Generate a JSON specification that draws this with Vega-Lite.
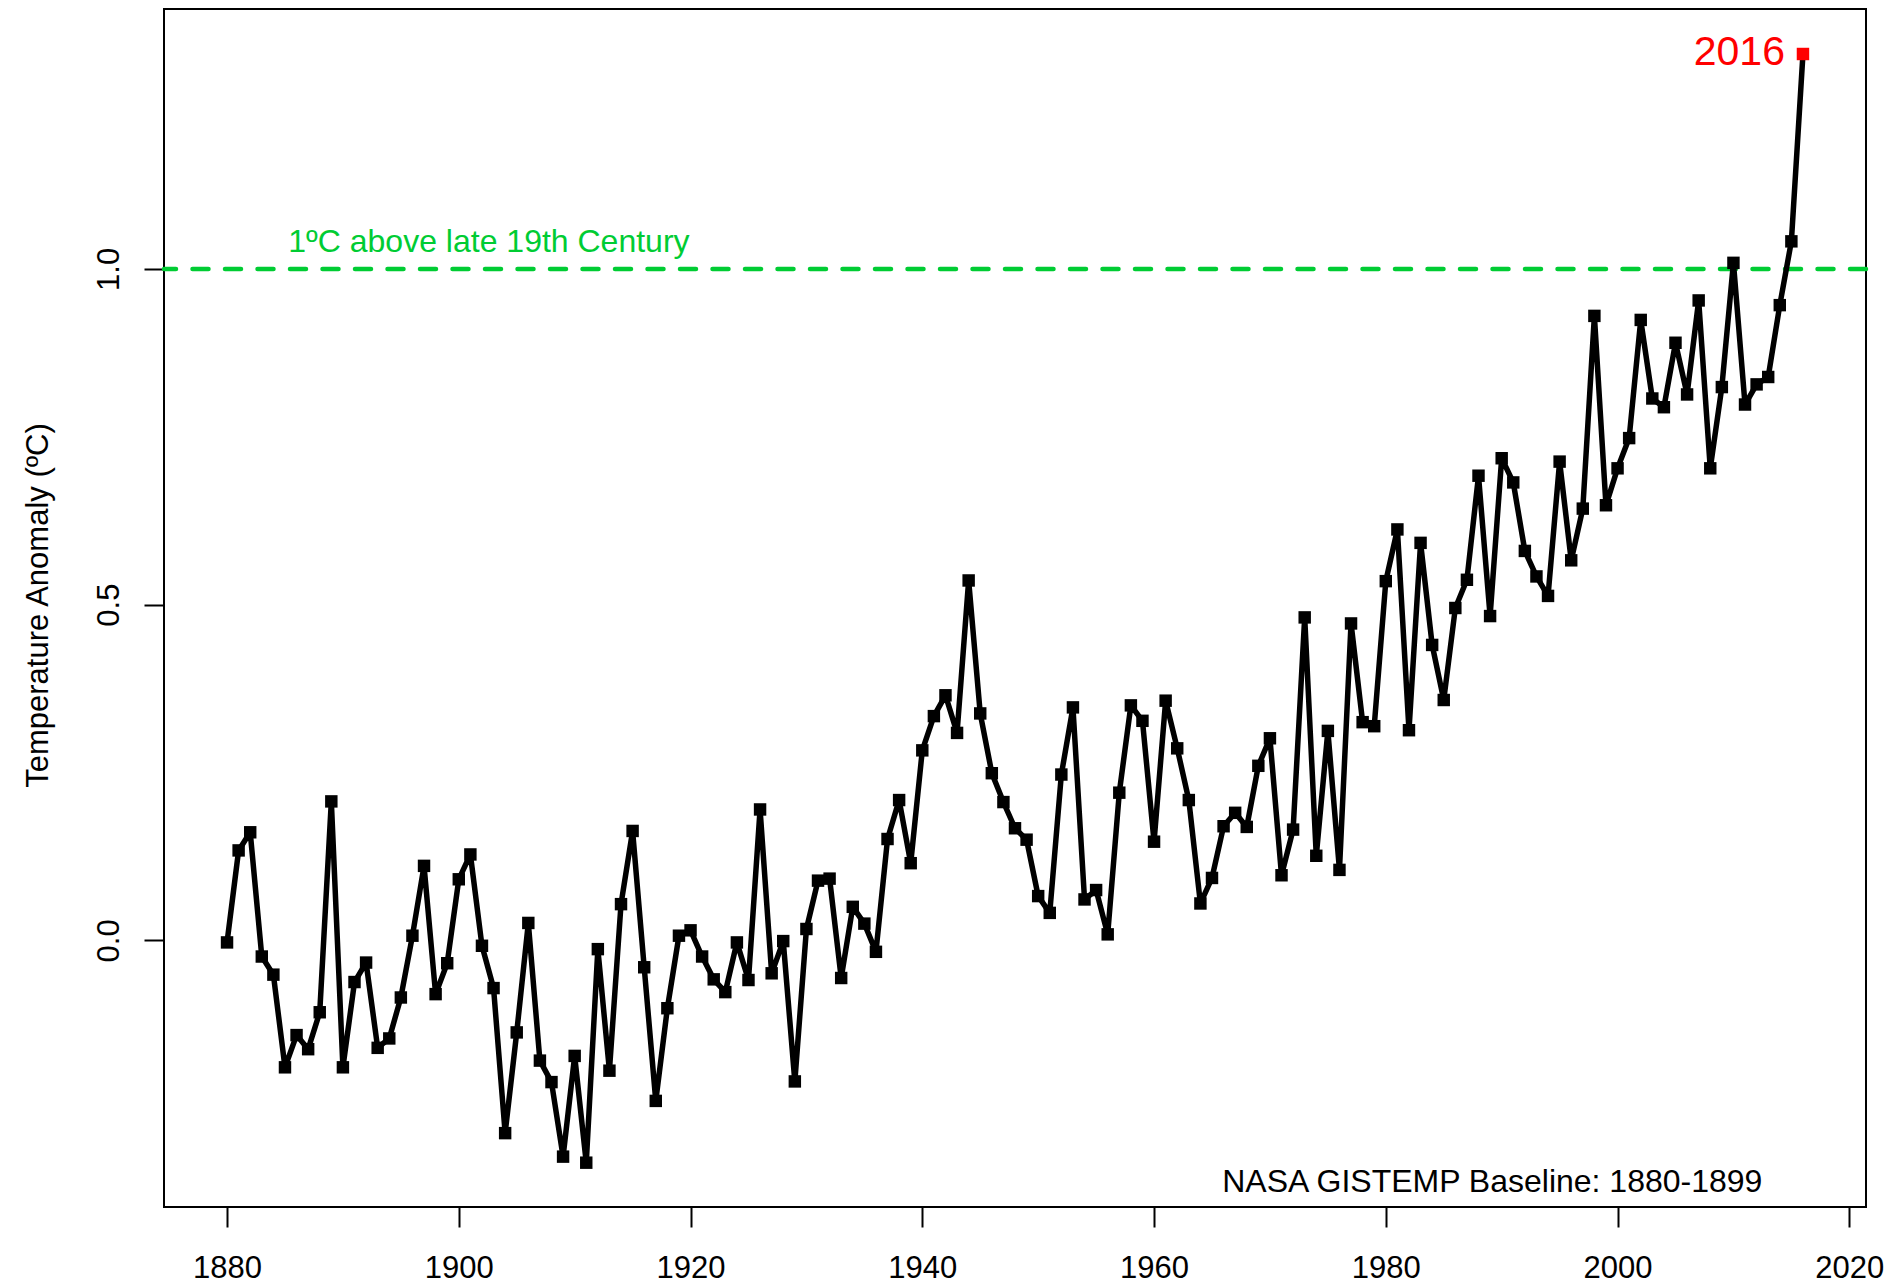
{
  "$schema": "https://vega.github.io/schema/vega-lite/v6.json",
  "width": 1702,
  "height": 1198,
  "autosize": {"type": "none"},
  "padding": {"left": 164, "top": 9, "right": 29, "bottom": 76},
  "background": "white",
  "config": {
    "font": "Liberation Sans",
    "view": {"stroke": "black", "strokeWidth": 2},
    "axis": {
      "domain": false,
      "grid": false,
      "tickColor": "black",
      "tickWidth": 2,
      "tickSize": 20,
      "labelColor": "black",
      "labelFont": "Liberation Sans",
      "labelFontSize": 31,
      "labelPadding": 26,
      "titleFont": "Liberation Sans",
      "titleFontSize": 31,
      "titleFontWeight": "normal",
      "titleColor": "black"
    }
  },
  "data": {
    "values": [
      {"year": 1880, "anomaly": -0.003}, {"year": 1881, "anomaly": 0.134}, {"year": 1882, "anomaly": 0.161},
      {"year": 1883, "anomaly": -0.024}, {"year": 1884, "anomaly": -0.051}, {"year": 1885, "anomaly": -0.189},
      {"year": 1886, "anomaly": -0.141}, {"year": 1887, "anomaly": -0.162}, {"year": 1888, "anomaly": -0.107},
      {"year": 1889, "anomaly": 0.207}, {"year": 1890, "anomaly": -0.189}, {"year": 1891, "anomaly": -0.062},
      {"year": 1892, "anomaly": -0.033}, {"year": 1893, "anomaly": -0.160}, {"year": 1894, "anomaly": -0.146},
      {"year": 1895, "anomaly": -0.085}, {"year": 1896, "anomaly": 0.007}, {"year": 1897, "anomaly": 0.111},
      {"year": 1898, "anomaly": -0.080}, {"year": 1899, "anomaly": -0.034}, {"year": 1900, "anomaly": 0.091},
      {"year": 1901, "anomaly": 0.128}, {"year": 1902, "anomaly": -0.008}, {"year": 1903, "anomaly": -0.071},
      {"year": 1904, "anomaly": -0.287}, {"year": 1905, "anomaly": -0.137}, {"year": 1906, "anomaly": 0.026},
      {"year": 1907, "anomaly": -0.179}, {"year": 1908, "anomaly": -0.211}, {"year": 1909, "anomaly": -0.322},
      {"year": 1910, "anomaly": -0.172}, {"year": 1911, "anomaly": -0.331}, {"year": 1912, "anomaly": -0.013},
      {"year": 1913, "anomaly": -0.194}, {"year": 1914, "anomaly": 0.054}, {"year": 1915, "anomaly": 0.163},
      {"year": 1916, "anomaly": -0.040}, {"year": 1917, "anomaly": -0.239}, {"year": 1918, "anomaly": -0.101},
      {"year": 1919, "anomaly": 0.007}, {"year": 1920, "anomaly": 0.015}, {"year": 1921, "anomaly": -0.024},
      {"year": 1922, "anomaly": -0.058}, {"year": 1923, "anomaly": -0.077}, {"year": 1924, "anomaly": -0.003},
      {"year": 1925, "anomaly": -0.059}, {"year": 1926, "anomaly": 0.195}, {"year": 1927, "anomaly": -0.049},
      {"year": 1928, "anomaly": -0.001}, {"year": 1929, "anomaly": -0.210}, {"year": 1930, "anomaly": 0.017},
      {"year": 1931, "anomaly": 0.089}, {"year": 1932, "anomaly": 0.092}, {"year": 1933, "anomaly": -0.056},
      {"year": 1934, "anomaly": 0.050}, {"year": 1935, "anomaly": 0.025}, {"year": 1936, "anomaly": -0.017},
      {"year": 1937, "anomaly": 0.151}, {"year": 1938, "anomaly": 0.209}, {"year": 1939, "anomaly": 0.115},
      {"year": 1940, "anomaly": 0.283}, {"year": 1941, "anomaly": 0.334}, {"year": 1942, "anomaly": 0.365},
      {"year": 1943, "anomaly": 0.309}, {"year": 1944, "anomaly": 0.536}, {"year": 1945, "anomaly": 0.338},
      {"year": 1946, "anomaly": 0.249}, {"year": 1947, "anomaly": 0.206}, {"year": 1948, "anomaly": 0.167},
      {"year": 1949, "anomaly": 0.150}, {"year": 1950, "anomaly": 0.066}, {"year": 1951, "anomaly": 0.041},
      {"year": 1952, "anomaly": 0.247}, {"year": 1953, "anomaly": 0.347}, {"year": 1954, "anomaly": 0.061},
      {"year": 1955, "anomaly": 0.075}, {"year": 1956, "anomaly": 0.009}, {"year": 1957, "anomaly": 0.220},
      {"year": 1958, "anomaly": 0.350}, {"year": 1959, "anomaly": 0.327}, {"year": 1960, "anomaly": 0.147},
      {"year": 1961, "anomaly": 0.357}, {"year": 1962, "anomaly": 0.286}, {"year": 1963, "anomaly": 0.209},
      {"year": 1964, "anomaly": 0.055}, {"year": 1965, "anomaly": 0.093}, {"year": 1966, "anomaly": 0.170},
      {"year": 1967, "anomaly": 0.190}, {"year": 1968, "anomaly": 0.169}, {"year": 1969, "anomaly": 0.260},
      {"year": 1970, "anomaly": 0.301}, {"year": 1971, "anomaly": 0.097}, {"year": 1972, "anomaly": 0.165},
      {"year": 1973, "anomaly": 0.481}, {"year": 1974, "anomaly": 0.126}, {"year": 1975, "anomaly": 0.312},
      {"year": 1976, "anomaly": 0.105}, {"year": 1977, "anomaly": 0.472}, {"year": 1978, "anomaly": 0.325},
      {"year": 1979, "anomaly": 0.319}, {"year": 1980, "anomaly": 0.535}, {"year": 1981, "anomaly": 0.612},
      {"year": 1982, "anomaly": 0.313}, {"year": 1983, "anomaly": 0.592}, {"year": 1984, "anomaly": 0.440},
      {"year": 1985, "anomaly": 0.358}, {"year": 1986, "anomaly": 0.495}, {"year": 1987, "anomaly": 0.537},
      {"year": 1988, "anomaly": 0.692}, {"year": 1989, "anomaly": 0.483}, {"year": 1990, "anomaly": 0.718},
      {"year": 1991, "anomaly": 0.682}, {"year": 1992, "anomaly": 0.580}, {"year": 1993, "anomaly": 0.542},
      {"year": 1994, "anomaly": 0.513}, {"year": 1995, "anomaly": 0.713}, {"year": 1996, "anomaly": 0.566},
      {"year": 1997, "anomaly": 0.643}, {"year": 1998, "anomaly": 0.930}, {"year": 1999, "anomaly": 0.648},
      {"year": 2000, "anomaly": 0.703}, {"year": 2001, "anomaly": 0.748}, {"year": 2002, "anomaly": 0.924},
      {"year": 2003, "anomaly": 0.807}, {"year": 2004, "anomaly": 0.794}, {"year": 2005, "anomaly": 0.890},
      {"year": 2006, "anomaly": 0.813}, {"year": 2007, "anomaly": 0.953}, {"year": 2008, "anomaly": 0.703},
      {"year": 2009, "anomaly": 0.824}, {"year": 2010, "anomaly": 1.009}, {"year": 2011, "anomaly": 0.798},
      {"year": 2012, "anomaly": 0.828}, {"year": 2013, "anomaly": 0.839}, {"year": 2014, "anomaly": 0.946},
      {"year": 2015, "anomaly": 1.041}, {"year": 2016, "anomaly": 1.320}
    ]
  },
  "layer": [
    {
      "data": {"values": [{"level": 1.0}]},
      "mark": {"type": "rule", "color": "#00CC33", "strokeWidth": 4.5, "strokeDash": [16, 16.5], "strokeCap": "round"},
      "encoding": {
        "y": {
          "field": "level", "type": "quantitative",
          "scale": {"domain": [-0.397, 1.387], "nice": false, "zero": false},
          "axis": {
            "values": [0, 0.5, 1.0], "format": ".1f",
            "labelAngle": -90, "labelAlign": "center", "labelBaseline": "alphabetic",
            "labelFlush": false, "labelOverlap": false,
            "title": "Temperature Anomaly (ºC)",
            "titleAngle": -90, "titleAlign": "center", "titleBaseline": "alphabetic",
            "titleX": -117, "titleY": 596
          }
        }
      }
    },
    {
      "mark": {"type": "line", "color": "black", "strokeWidth": 5.5, "strokeJoin": "round"},
      "encoding": {
        "x": {
          "field": "year", "type": "quantitative",
          "scale": {"domain": [1874.56, 2021.44], "nice": false, "zero": false},
          "axis": {"values": [1880, 1900, 1920, 1940, 1960, 1980, 2000, 2020], "format": "d", "title": null, "labelFlush": false, "labelOverlap": false}
        },
        "y": {"field": "anomaly", "type": "quantitative"}
      }
    },
    {
      "mark": {"type": "point", "shape": "square", "filled": true, "opacity": 1, "size": 155},
      "encoding": {
        "x": {"field": "year", "type": "quantitative"},
        "y": {"field": "anomaly", "type": "quantitative"},
        "color": {"condition": {"test": "datum.year == 2016", "value": "#FF0000"}, "value": "black"}
      }
    },
    {
      "transform": [{"filter": "datum.year == 2016"}],
      "mark": {"type": "text", "color": "#FF0000", "fontSize": 41, "align": "right", "baseline": "middle", "dx": -18, "dy": -1},
      "encoding": {
        "x": {"field": "year", "type": "quantitative"},
        "y": {"field": "anomaly", "type": "quantitative"},
        "text": {"field": "year", "type": "nominal"}
      }
    },
    {
      "data": {"values": [{"label": "1ºC above late 19th Century", "year": 1902.6, "anomaly": 1.025}]},
      "mark": {"type": "text", "color": "#00CC33", "fontSize": 32, "align": "center", "baseline": "alphabetic"},
      "encoding": {
        "x": {"field": "year", "type": "quantitative"},
        "y": {"field": "anomaly", "type": "quantitative"},
        "text": {"field": "label", "type": "nominal"}
      }
    },
    {
      "data": {"values": [{"label": "NASA GISTEMP Baseline: 1880-1899", "year": 2012.5, "anomaly": -0.375}]},
      "mark": {"type": "text", "color": "black", "fontSize": 32, "align": "right", "baseline": "alphabetic"},
      "encoding": {
        "x": {"field": "year", "type": "quantitative"},
        "y": {"field": "anomaly", "type": "quantitative"},
        "text": {"field": "label", "type": "nominal"}
      }
    }
  ]
}
